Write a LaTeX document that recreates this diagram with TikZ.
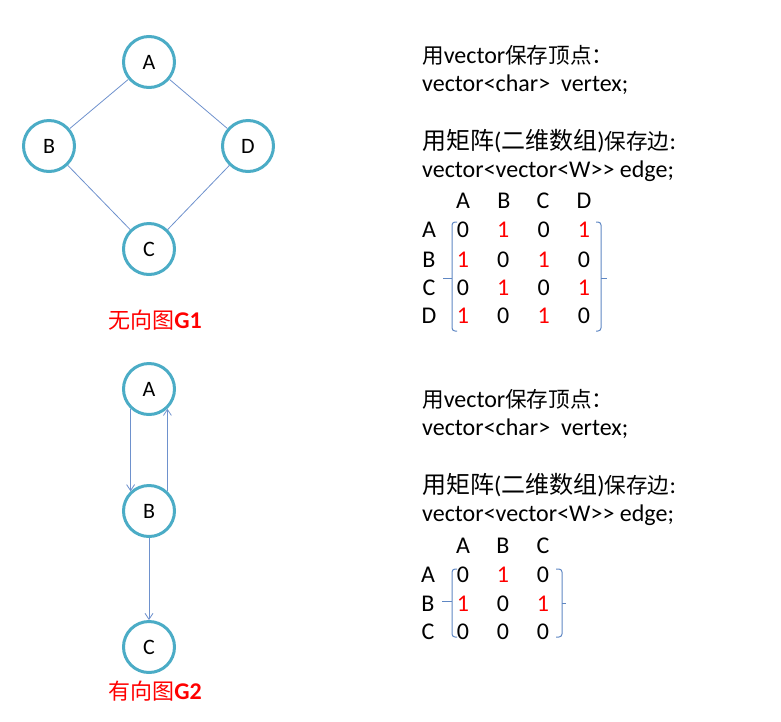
\documentclass[tikz,border=0pt]{standalone}
\usepackage{fontspec}
\setmainfont{Carlito}
\newfontfamily\cjk{Noto Sans CJK SC}[Scale=0.9]
\newfontfamily\cjkw{Noto Sans CJK SC}
\usepackage{xcolor}
\usetikzlibrary{arrows.meta,positioning}
\definecolor{ringblue}{RGB}{75,172,198}
\definecolor{linkblue}{RGB}{110,145,205}
\definecolor{brkblue}{RGB}{95,135,195}
\definecolor{hotred}{RGB}{255,0,0}
\colorlet{val0}{black}
\colorlet{val1}{hotred}
\newcommand{\zh}[1]{{\cjk #1}}
\newcommand{\zhw}[1]{{\cjkw #1}}

\begin{document}
\begin{tikzpicture}[
    x=1pt,y=-1pt,
    vertex/.style={draw=ringblue,line width=3pt,circle,minimum size=51pt,inner sep=0pt,fill=white,font=\fontsize{22}{26}\selectfont},
    link/.style={draw=linkblue,line width=0.8pt},
    arc/.style={link,-{Straight Barb[length=6pt,width=8pt]}},
    txt/.style={anchor=base west,inner sep=0pt,font=\fontsize{24}{28}\selectfont},
    cell/.style={anchor=base,inner sep=0pt,font=\fontsize{24}{28}\selectfont},
    caption/.style={text=hotred,anchor=base,inner sep=0pt,font=\fontsize{24}{28}\selectfont},
    brk/.style={draw=brkblue,line width=1pt,rounded corners=3pt}
  ]
    \useasboundingbox (0,0) rectangle (781,721);

    % undirected graph G1
    \node[vertex] (a1) at (149,62) {A};
    \node[vertex] (b1) at (49,146) {B};
    \node[vertex] (d1) at (248,146) {D};
    \node[vertex] (c1) at (149,249) {C};
    \draw[link] (a1) -- (b1);
    \draw[link] (a1) -- (d1);
    \draw[link] (b1) -- (c1);
    \draw[link] (d1) -- (c1);
    \node[caption] (t1) at (155,328) {{\fontsize{22}{28}\selectfont\zhw{无向图}}\textbf{G1}};

    \node[txt] (v1) at (422,63) {\zh{用}vector\zh{保存顶点：}};
    \node[txt] (w1) at (422,91) {vector<char>\ \ vertex;};
    \node[txt] (m1) at (422,149) {\zhw{用矩阵}(\zhw{二维数组})\zh{保存边}:};
    \node[txt] (e1) at (422,177) {vector<vector<W>{}> edge;};

    \foreach \n/\x in {A/463,B/504,C/543,D/584}
      \node[cell] (h1\n) at (\x,208) {\n};
    \foreach \n/\y in {A/237,B/267,C/295,D/323}
      \node[cell] (r1\n) at (429,\y) {\n};
    \foreach \y/\vals [count=\r] in {237/{0,1,0,1},267/{1,0,1,0},295/{0,1,0,1},323/{1,0,1,0}}
      \foreach \v [count=\c] in \vals
        \node[cell,text=val\v] (g1-\r-\c) at ({463+40.3*(\c-1)},\y) {\v};

    \draw[brk] (457,222) -- (452,222) -- (452,331) -- (457,331);
    \draw[brkblue,line width=1pt] (452,278) -- (443,278);
    \draw[brk] (596,222) -- (601,222) -- (601,331) -- (596,331);
    \draw[brkblue,line width=1pt] (601,278) -- (607,278);

    % directed graph G2
    \node[vertex] (a2) at (149,389) {A};
    \node[vertex] (b2) at (149,511) {B};
    \node[vertex] (c2) at (149,647) {C};
    \draw[arc] (a2.227) -- (b2.133);
    \draw[arc] (b2.47) -- (a2.313);
    \draw[arc] (b2) -- (c2);
    \node[caption] (t2) at (155,699) {{\fontsize{22}{28}\selectfont\zhw{有向图}}\textbf{G2}};

    \node[txt] (v2) at (422,407) {\zh{用}vector\zh{保存顶点：}};
    \node[txt] (w2) at (422,435) {vector<char>\ \ vertex;};
    \node[txt] (m2) at (422,493) {\zhw{用矩阵}(\zhw{二维数组})\zh{保存边}:};
    \node[txt] (e2) at (422,521) {vector<vector<W>{}> edge;};

    \foreach \n/\x in {A/463,B/503,C/543}
      \node[cell] (h2\n) at (\x,553) {\n};
    \foreach \n/\y in {A/582,B/611,C/639}
      \node[cell] (r2\n) at (428,\y) {\n};
    \foreach \y/\vals [count=\r] in {582/{0,1,0},611/{1,0,1},639/{0,0,0}}
      \foreach \v [count=\c] in \vals
        \node[cell,text=val\v] (g2-\r-\c) at ({463+40*(\c-1)},\y) {\v};

    \draw[brk] (457,569) -- (452,569) -- (452,637) -- (457,637);
    \draw[brkblue,line width=1pt] (452,601) -- (442,601);
    \draw[brk] (556,569) -- (562,569) -- (562,637) -- (556,637);
    \draw[brkblue,line width=1pt] (562,603) -- (566,603);
\end{tikzpicture}
\end{document}
